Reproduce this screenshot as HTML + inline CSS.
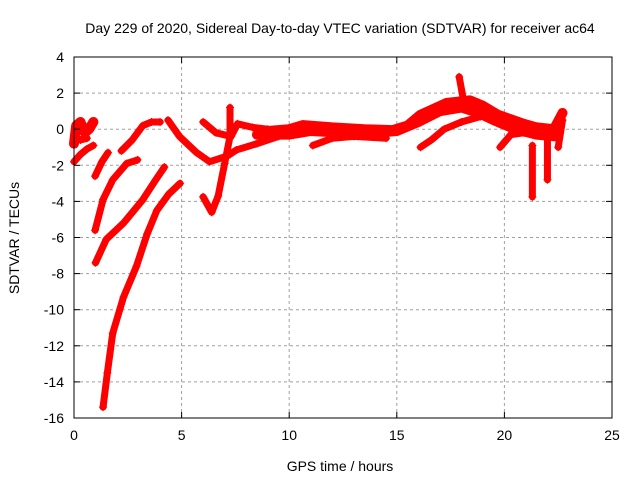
<!DOCTYPE html>
<html><head><meta charset="utf-8"><style>
body{margin:0;background:#fff}
svg{display:block;font-family:"Liberation Sans",sans-serif}
</style></head><body>
<svg id="chart" width="640" height="480">
<text x="340" y="33" font-size="14" text-anchor="middle">Day 229 of 2020, Sidereal Day-to-day VTEC variation (SDTVAR) for receiver ac64</text>
<text x="340" y="471" font-size="14" text-anchor="middle">GPS time / hours</text>
<text transform="translate(19,238) rotate(-90)" font-size="14" text-anchor="middle">SDTVAR / TECUs</text>
<g id="grid"></g><g id="marks"></g><g id="axes"></g>
</svg>
<script>
const xTicks=[0,5,10,15,20,25];
const yTicks=[-16,-14,-12,-10,-8,-6,-4,-2,0,2,4];
const trackA=[[1.35,-15.4],[1.55,-13.5],[1.8,-11.3],[2.3,-9.3],[2.9,-7.6],[3.4,-5.8],[3.85,-4.5],[4.4,-3.6],[4.93,-3.0]];
const trackB=[[1.0,-7.4],[1.5,-6.1],[2.3,-5.2],[3.2,-3.9],[3.8,-2.8],[4.2,-2.1]];
const trackC=[[0.98,-5.6],[1.35,-3.9],[1.8,-2.8],[2.45,-1.9],[2.95,-1.7]];
const trackD=[[0.98,-2.6],[1.3,-1.8],[1.58,-1.3]];
const trackE=[[2.2,-1.2],[2.7,-0.6],[3.2,0.2],[3.6,0.4],[4.0,0.4]];
const trackF=[[0.0,-1.8],[0.3,-1.4],[0.6,-1.1],[0.9,-0.9]];
const trackF2=[[0.0,-0.8],[0.1,0.2],[0.3,0.4],[0.5,-0.2],[0.7,0.0],[0.9,0.4]];
const trackF3=[[0.05,-0.5],[0.3,-0.6],[0.6,-0.5]];
const trackG=[[4.37,0.5],[4.9,-0.4],[5.7,-1.3],[6.3,-1.8],[7.1,-1.5],[7.55,-1.15],[8.5,-0.8],[9.5,-0.4],[10,-0.2]];
const trackH=[[6.0,0.4],[6.6,-0.2],[7.3,-0.4],[7.6,0.3],[8.3,0.1],[9.0,0.0]];
const trackI=[[6.0,-3.75],[6.4,-4.6],[6.7,-3.7],[7.0,-1.9],[7.25,-0.4],[7.25,1.2]];
const trackMain=[[9,-0.1],[10,0.0],[10.65,0.23],[12,0.1],[13.5,0.0],[14.8,-0.05],[15.5,0.2],[16.1,0.8],[17.3,1.45],[18.4,1.6],[19.0,1.3],[19.7,0.8],[20.9,0.3],[21.5,0.1],[22.3,0.0],[22.7,0.9]];
const trackMain2=[[8.5,-0.3],[10,-0.3],[11,-0.1],[12.5,-0.2],[14,-0.2],[15,-0.1],[16,0.4],[17,1.0],[18,1.2],[18.8,0.9],[19.5,0.5],[20.5,0.0],[21.5,-0.3],[22.4,-0.4]];
const trackLow=[[11.1,-0.9],[12,-0.5],[13,-0.4],[14.5,-0.5]];
const trackJ=[[16.1,-1.0],[16.6,-0.6],[17.2,0.0],[18.0,0.4],[18.9,0.7]];
const trackK=[[19.8,-1.0],[20.3,-0.3],[20.9,-0.2]];
const trackSpike1=[[17.9,2.9],[18.1,1.6]];
const trackSpike2=[[21.3,-0.9],[21.3,-3.75]];
const trackSpike3=[[22.0,-0.5],[22.0,-2.8]];
const trackSpike4=[[22.5,-1.0],[22.7,0.5]];
const thin=[trackA,trackB,trackC,trackD,trackE,trackF,trackF3,trackG,trackH,trackI,trackLow,trackJ,trackK,trackSpike1,trackSpike2,trackSpike3,trackSpike4];
const thick=[trackMain,trackMain2,trackF2];
const X0=74,X1=612,Y0=418,Y1=57,xmin=0,xmax=25,ymin=-16,ymax=4;
const sx=v=>X0+(v-xmin)/(xmax-xmin)*(X1-X0);
const sy=v=>Y0-(v-ymin)/(ymax-ymin)*(Y0-Y1);
const NS="http://www.w3.org/2000/svg";
function mk(t,a,p){const e=document.createElementNS(NS,t);for(const k in a)e.setAttribute(k,a[k]);p.appendChild(e);return e;}
const grid=document.getElementById('grid'),axes=document.getElementById('axes'),marks=document.getElementById('marks');
xTicks.forEach(v=>{
 if(v>xmin&&v<xmax){const g=mk('line',{x1:sx(v),x2:sx(v),y1:Y0,y2:Y1,stroke:'#a0a0a0','stroke-dasharray':'3,3'},grid);
 }
 const t=mk('text',{x:sx(v),y:Y0+22,'font-size':14,'text-anchor':'middle'},axes);t.textContent=v;
 
 mk('line',{x1:sx(v),x2:sx(v),y1:Y0,y2:Y0-6,stroke:'#000'},axes);mk('line',{x1:sx(v),x2:sx(v),y1:Y1,y2:Y1+6,stroke:'#000'},axes);
});
yTicks.forEach(v=>{
 if(v>ymin&&v<ymax){const g=mk('line',{x1:X0,x2:X1,y1:sy(v),y2:sy(v),stroke:'#a0a0a0','stroke-dasharray':'3,3'},grid);
 }
 const t=mk('text',{x:X0-10,y:sy(v)+5,'font-size':14,'text-anchor':'end'},axes);t.textContent=v;
 
 mk('line',{x1:X0,x2:X0+6,y1:sy(v),y2:sy(v),stroke:'#000'},axes);mk('line',{x1:X1,x2:X1-6,y1:sy(v),y2:sy(v),stroke:'#000'},axes);
});
const fr=mk('rect',{x:X0,y:Y1,width:X1-X0,height:Y0-Y1,fill:'none',stroke:'#000'},axes);

function draw(tr,w){
 const pl=mk('polyline',{points:tr.map(p=>sx(p[0])+','+sy(p[1])).join(' '),fill:'none',stroke:'#ff0000','stroke-width':w,'stroke-linejoin':'round','stroke-linecap':'round'},marks);
 
 tr.forEach(p=>{const x=sx(p[0]),y=sy(p[1]);
  const m=mk('path',{d:`M${x-4},${y}h8M${x},${y-4}v8`,stroke:'#ff0000','stroke-width':1},marks);
  });
}
thin.forEach(t=>draw(t,7));
thick.forEach(t=>draw(t,10));
</script>
</body></html>
